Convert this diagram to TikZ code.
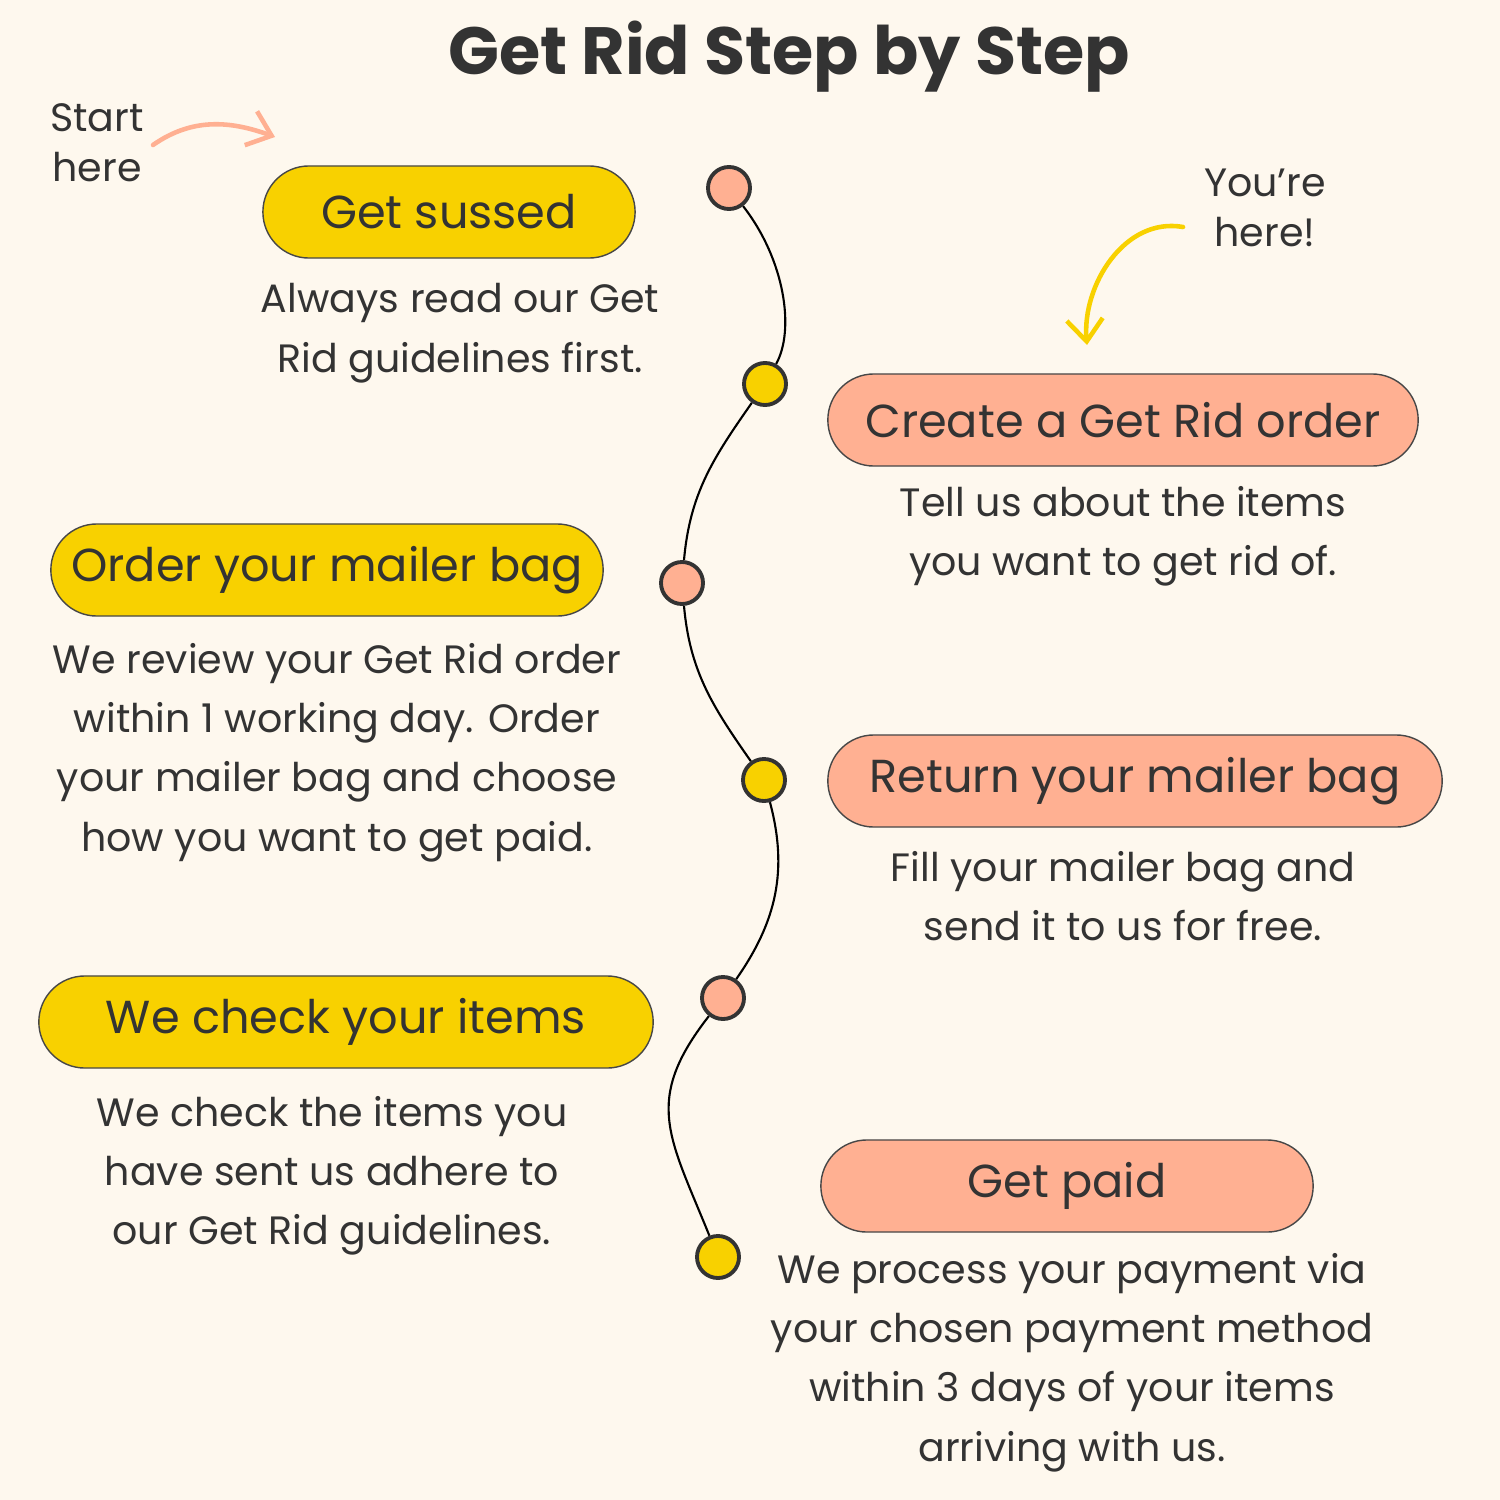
\documentclass[tikz,border=0pt]{standalone}
\usepackage{fontspec}
\setmainfont{Poppins}
\usetikzlibrary{arrows.meta, shapes.misc}
\definecolor{bgcream}{HTML}{FEF8EE}
\definecolor{sunyellow}{HTML}{F8D100}
\definecolor{peach}{HTML}{FFB092}
\definecolor{inkgray}{HTML}{333333}

\begin{document}
\begin{tikzpicture}[x=0.01cm, y=-0.01cm, text=inkgray,
    pill/.style={draw=inkgray!90, line width=0.4pt, rounded rectangle, minimum height=0.92cm, inner sep=0pt, font=\fontsize{13.15}{16}\selectfont},
    desc/.style={align=center, inner sep=0pt, font=\fontsize{11.25}{16.8}\selectfont},
    note/.style={align=center, inner sep=0pt, font=\fontsize{11.25}{14.2}\selectfont},
    dot/.style={circle, draw=inkgray, line width=1.1pt, minimum size=0.42cm, inner sep=0pt},
    hand/.style={line width=1.3pt, line cap=round, -{Straight Barb[length=2.2mm, width=3.6mm, line width=1.3pt]}}]
    \fill[bgcream] (0,0) rectangle (1500,1500);
    \useasboundingbox (0,0) rectangle (1500,1500);

    % Title
    \node[font=\fontsize{19}{22}\selectfont\bfseries] (title) at (789,57) {Get Rid Step by Step};

    % Pills
    \node[pill, fill=sunyellow, minimum width=3.72cm] (sussed) at (449,212) {Get sussed};
    \node[pill, fill=peach, minimum width=5.90cm] (create) at (1123,420) {Create a Get Rid order};
    \node[pill, fill=sunyellow, minimum width=5.52cm] (orderbag) at (327,570) {Order your mailer bag};
    \node[pill, fill=peach, minimum width=6.14cm] (returnbag) at (1135,781) {Return your mailer bag};
    \node[pill, fill=sunyellow, minimum width=6.14cm] (check) at (346,1022) {We check your items};
    \node[pill, fill=peach, minimum width=4.92cm] (paid) at (1067,1186) {Get paid};

    % Descriptions
    \node[desc, anchor=north] (sussedtxt) at (460,283) {Always read our Get\\Rid guidelines first.};
    \node[desc, anchor=north] (createtxt) at (1123,486) {Tell us about the items\\you want to get rid of.};
    \node[desc, anchor=north] (ordertxt) at (337,643) {We review your Get Rid order\\within 1 working day. Order\\your mailer bag and choose\\how you want to get paid.};
    \node[desc, anchor=north] (returntxt) at (1123,851) {Fill your mailer bag and\\send it to us for free.};
    \node[desc, anchor=north] (checktxt) at (332,1096) {We check the items you\\have sent us adhere to\\our Get Rid guidelines.};
    \node[desc, anchor=north] (paidtxt) at (1072,1253) {We process your payment via\\your chosen payment method\\within 3 days of your items\\arriving with us.};

    % Notes
    \node[note] (start) at (97,143) {Start\\here};
    \node[note] (youre) at (1265,208) {You’re\\here!};
    \coordinate (starttip) at (275,137);
    \coordinate (youretip) at (1087,345);

    % Dots
    \node[dot, fill=peach] (d1) at (729,188) {};
    \node[dot, fill=sunyellow] (d2) at (765,384) {};
    \node[dot, fill=peach] (d3) at (682,583) {};
    \node[dot, fill=sunyellow] (d4) at (764,780) {};
    \node[dot, fill=peach] (d5) at (723,998) {};
    \node[dot, fill=sunyellow] (d6) at (718,1257) {};

    % Edges
    \draw[line width=0.6pt] (d1) .. controls (785,260) and (795,330) .. (d2);
    \draw[line width=0.6pt] (d2) to[out=-125, in=85] (d3);
    \draw[line width=0.6pt] (d3) to[out=-85, in=125] (d4);
    \draw[line width=0.6pt] (d4) to[out=-75, in=55] (d5);
    \draw[line width=0.6pt] (d5) to[out=-128, in=112, looseness=1.25] (d6);
    \draw[hand, peach] (153,145) to[out=35, in=160] (starttip);
    \draw[hand, sunyellow] (1183,227) to[out=170, in=95] (youretip);
\end{tikzpicture}
\end{document}
